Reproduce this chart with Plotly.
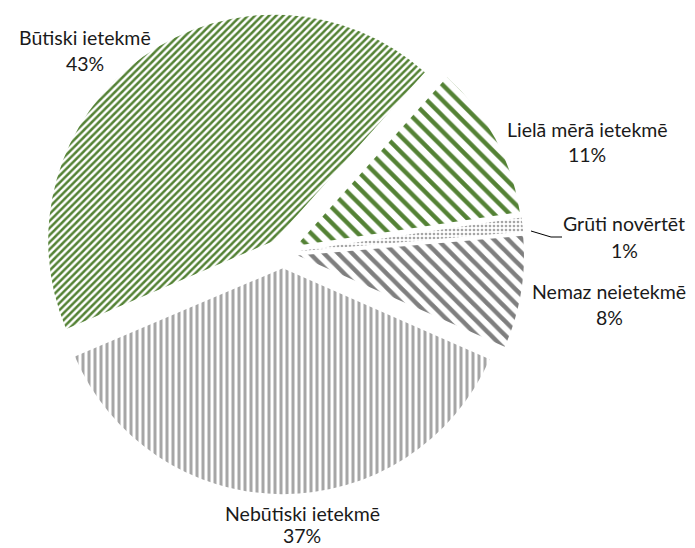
import plotly.graph_objects as go

labels = ["Lielā mērā ietekmē", "Grūti novērtēt", "Nemaz neietekmē", "Nebūtiski ietekmē", "Būtiski ietekmē"]
values = [11, 1, 8, 37, 43]
shapes = ["\\", ".", "\\", "|", "/"]
fg_colors = ["#548235", "#a6a6a6", "#7f7f7f", "#a6a6a6", "#548235"]
pattern_sizes = [11, 4, 10, 6, 5]
solidities = [0.4, 0.35, 0.45, 0.5, 0.5]

W, H = 695, 548
cx, cy, R, pull = 275, 245, 226, 0.067
half = R * (1 + pull)

fig = go.Figure(go.Pie(
    labels=labels,
    values=values,
    sort=False,
    direction="clockwise",
    rotation=41.8,
    pull=[pull] * len(values),
    textinfo="none",
    hoverinfo="label+percent",
    showlegend=False,
    marker=dict(
        colors=["white"] * len(values),
        line=dict(width=0),
        pattern=dict(shape=shapes, fgcolor=fg_colors, bgcolor="white", fgopacity=1,
                     size=pattern_sizes, solidity=solidities, fillmode="replace"),
    ),
    domain=dict(x=[(cx - half) / W, (cx + half) / W],
                y=[1 - (cy + half) / H, 1 - (cy - half) / H]),
))

# label line positions (pixels): x center, y of name line, y of percent line
label_pos = {
    "Būtiski ietekmē": (77, 30, 55),
    "Lielā mērā ietekmē": (579, 121, 147),
    "Grūti novērtēt": (616, 216, 243),
    "Nemaz neietekmē": (601, 283, 309),
    "Nebūtiski ietekmē": (294, 505, 527),
}
total = sum(values)
annotations = []
for lab, val in zip(labels, values):
    px, py1, py2 = label_pos[lab]
    for txt, py in ((lab, py1), (f"{round(val / total * 100)}%", py2)):
        annotations.append(dict(
            x=px / W, y=1 - py / H, xref="paper", yref="paper",
            text=txt, showarrow=False, xanchor="center", yanchor="middle",
            font=dict(family="Lato", size=19.5, color="#1a1a1a"),
        ))

fig.add_shape(type="path",
              path=f"M {523/W} {1-223/H} L {543/W} {1-229/H} L {554/W} {1-229/H}",
              xref="paper", yref="paper", line=dict(color="black", width=1))

fig.update_layout(
    width=W, height=H,
    margin=dict(l=0, r=0, t=0, b=0),
    paper_bgcolor="white", plot_bgcolor="white",
    annotations=annotations,
)

fig.write_html("out.html")
